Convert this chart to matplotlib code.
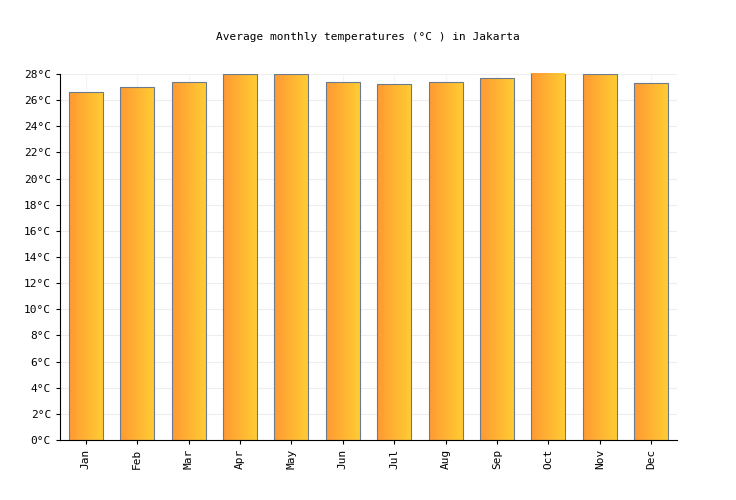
import matplotlib.pyplot as plt
import numpy as np
from matplotlib.colors import LinearSegmentedColormap

plt.rcParams['font.family'] = 'DejaVu Sans Mono'

months = ['Jan', 'Feb', 'Mar', 'Apr', 'May', 'Jun', 'Jul', 'Aug', 'Sep', 'Oct', 'Nov', 'Dec']
temps = [26.6, 27.0, 27.4, 28.0, 28.0, 27.4, 27.2, 27.4, 27.7, 28.1, 28.0, 27.3]
yticks = list(range(0, 29, 2))

fig = plt.figure(figsize=(7.36, 5.0), dpi=100)
ax = fig.add_axes([60/736, 60/500, 617/736, 366/500])

cmap = LinearSegmentedColormap.from_list('og', ['#ff9933', '#ffcc33'])
grad = np.linspace(0, 1, 64).reshape(1, -1)
bars = ax.bar(range(12), temps, width=0.66, color='none', edgecolor='#6b7b8c', linewidth=0.8, zorder=3)
for b in bars:
    x0, w, h = b.get_x(), b.get_width(), b.get_height()
    im = ax.imshow(grad, cmap=cmap, extent=[x0, x0 + w, 0, h], aspect='auto', zorder=2)
    im.set_clip_path(b)

ax.set_xlim(-0.5, 11.5)
ax.set_ylim(0, 28)
ax.set_yticks(yticks)
ax.set_yticklabels([f'{t}°C' for t in yticks], fontsize=8)
ax.set_xticks(range(12))
ax.set_xticklabels(months, rotation=90, fontsize=8)
ax.grid(axis='y', color='#eeeeee', linewidth=0.8, zorder=0)
ax.grid(axis='x', color='#f4f4f4', linewidth=0.8, zorder=0)
for s in ['top', 'right']:
    ax.spines[s].set_visible(False)
ax.tick_params(length=3)
fig.text(0.5, 37/500 * -1 + 1, 'Average monthly temperatures (°C ) in Jakarta', ha='center', va='center', fontsize=8)

plt.savefig('out.png', dpi=100)
